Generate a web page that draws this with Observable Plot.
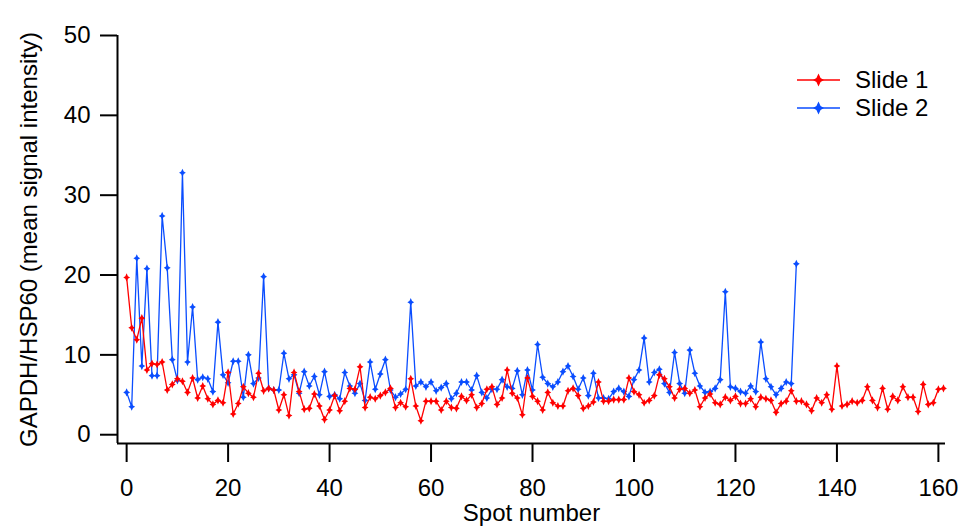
<!DOCTYPE html>
<html>
<head>
<meta charset="utf-8">
<script src="https://cdn.jsdelivr.net/npm/d3@7"></script>
<script src="https://cdn.jsdelivr.net/npm/@observablehq/plot@0.6"></script>
<style>
  html, body { margin: 0; padding: 0; background: white; }
  #wrap { position: relative; width: 961px; height: 532px; font-family: "Liberation Sans", Arial, sans-serif; }
  #legend { position: absolute; left: 0; top: 0; pointer-events: none; }
</style>
</head>
<body>
<div id="wrap"></div>
<script>
// ---- Data ----
const slide1 = [19.7,13.4,11.9,14.6,8.1,8.9,8.8,9.1,5.6,6.3,7.0,6.7,5.3,7.1,4.6,6.1,4.5,3.8,4.3,4.0,
  7.8,2.6,3.9,6.0,5.2,4.7,7.7,5.5,5.8,5.6,3.1,5.0,2.4,7.8,5.4,3.2,3.3,5.1,3.6,1.9,
  3.1,4.9,3.0,4.2,5.8,5.7,8.5,3.4,4.7,4.5,4.9,5.3,5.8,3.4,4.0,3.5,7.0,3.6,1.75,4.2,
  4.2,4.2,3.1,4.2,3.4,3.3,4.8,4.3,5.0,3.4,3.9,5.7,6.0,3.8,4.6,8.1,5.2,4.6,2.5,7.1,
  4.8,4.2,3.1,5.3,4.0,3.6,3.6,5.5,5.8,4.9,3.3,3.6,4.1,6.6,4.2,4.2,4.4,4.4,4.4,7.1,
  5.4,5.0,4.0,4.3,4.9,7.5,7.0,6.0,4.6,5.7,5.8,5.2,5.6,3.5,4.6,5.1,4.0,3.8,4.7,4.3,
  4.8,3.9,3.9,4.5,3.5,4.7,4.5,4.3,2.8,3.9,4.2,5.5,4.2,4.2,3.8,3.0,4.6,4.0,5.0,3.2,
  8.6,3.6,3.8,4.2,4.0,4.3,6.0,4.3,3.4,5.8,3.2,4.8,4.3,6.0,4.7,4.7,2.9,6.3,3.8,4.0,
  5.7,5.8];
const slide2 = [5.3,3.5,22.1,8.6,20.8,7.4,7.4,27.4,20.9,9.4,6.8,32.8,9.1,16.0,6.9,7.2,7.0,5.4,14.1,7.5,
  6.5,9.2,9.2,4.7,10.0,6.4,7.1,19.8,5.8,5.6,5.6,10.2,7.0,7.5,5.2,7.9,6.1,7.3,5.0,7.9,
  4.8,5.0,4.5,7.8,6.1,5.2,6.4,4.3,9.1,5.7,7.6,9.4,5.6,4.7,5.1,5.7,16.6,6.1,6.6,6.0,
  6.6,5.5,5.9,6.4,4.5,5.2,6.6,6.6,5.6,7.4,5.3,4.6,5.7,5.7,6.9,6.0,5.8,8.0,5.0,8.1,
  5.6,11.3,7.2,6.4,6.0,6.6,7.9,8.6,7.3,5.7,7.1,4.9,7.7,4.6,4.6,4.5,5.4,5.8,5.4,4.8,
  6.9,8.1,12.1,6.6,7.8,8.2,6.4,5.3,10.3,6.4,5.2,10.6,7.7,6.1,5.3,5.4,5.8,6.9,17.9,6.0,
  5.8,5.4,5.2,6.1,5.4,11.6,7.0,6.0,5.0,5.8,6.6,6.4,21.4];
const seriesNames = ["Slide 1", "Slide 2"];
const seriesColors = ["#ff0000", "#0a4dff"];
const xTicks = [0, 20, 40, 60, 80, 100, 120, 140, 160];
const yTicks = [0, 10, 20, 30, 40, 50];
const xLabel = "Spot number";
const yLabel = "GAPDH/HSP60 (mean signal intensity)";
const xDomain = [-1.8, 161.4];
const yDomain = [-1.1, 50];

const d1 = slide1.map((v, i) => ({spot: i, value: v}));
const d2 = slide2.map((v, i) => ({spot: i, value: v}));

// 4-point star symbol
const star4 = {
  draw(ctx, size) {
    const r = Math.sqrt(size / Math.PI);
    const rx = r, ry = r * 1.2, w = r * 0.38;
    ctx.moveTo(0, -ry); ctx.lineTo(w, -w); ctx.lineTo(rx, 0); ctx.lineTo(w, w);
    ctx.lineTo(0, ry); ctx.lineTo(-w, w); ctx.lineTo(-rx, 0); ctx.lineTo(-w, -w);
    ctx.closePath();
  }
};

const font = "'Liberation Sans', Arial, sans-serif";
const fs = 24;

const chart = Plot.plot({
  width: 961,
  height: 532,
  marginLeft: 117,
  marginRight: 16,
  marginTop: 35,
  marginBottom: 89,
  style: {fontFamily: font, fontSize: fs + "px", color: "black", background: "white", overflow: "visible"},
  x: {domain: xDomain},
  y: {domain: yDomain},
  marks: [
    Plot.axisX({ticks: xTicks, tickSize: 19, tickPadding: 16, strokeWidth: 2, fontSize: fs, label: null}),
    Plot.axisY({ticks: yTicks, tickSize: 17, tickPadding: 10, strokeWidth: 2, fontSize: fs, label: null}),
    Plot.ruleX([xDomain[0]], {y1: yDomain[0], y2: yDomain[1], stroke: "black", strokeWidth: 2}),
    Plot.ruleY([yDomain[0]], {x1: xDomain[0], x2: xDomain[1], stroke: "black", strokeWidth: 2}),
    Plot.text([xLabel], {frameAnchor: "bottom", dy: 77, fontSize: fs, fill: "black", textAnchor: "middle"}),
    Plot.text([yLabel], {frameAnchor: "left", dx: -88, rotate: -90, fontSize: fs, fill: "black", textAnchor: "middle"}),
    Plot.line(d2, {x: "spot", y: "value", stroke: seriesColors[1], strokeWidth: 1.3}),
    Plot.dot(d2, {x: "spot", y: "value", symbol: star4, r: 3.4, fill: seriesColors[1], stroke: "none"}),
    Plot.line(d1, {x: "spot", y: "value", stroke: seriesColors[0], strokeWidth: 1.3}),
    Plot.dot(d1, {x: "spot", y: "value", symbol: star4, r: 3.4, fill: seriesColors[0], stroke: "none"})
  ]
});
document.getElementById("wrap").appendChild(chart);

// Legend overlay (inside plot area, top right)
const leg = d3.select("#wrap").append("svg")
  .attr("id", "legend").attr("width", 961).attr("height", 532);
seriesNames.forEach((name, i) => {
  const cy = 80 + i * 28;
  const g = leg.append("g");
  g.append("line").attr("x1", 797).attr("x2", 840).attr("y1", cy).attr("y2", cy)
    .attr("stroke", seriesColors[i]).attr("stroke-width", 1.5);
  g.append("path").attr("transform", `translate(818.5,${cy})`)
    .attr("d", d3.symbol().type(star4).size(Math.PI * 30)())
    .attr("fill", seriesColors[i]);
  g.append("text").attr("x", 855).attr("y", cy).attr("dy", "0.35em")
    .attr("font-family", font).attr("font-size", fs).attr("fill", "black").text(name);
});
</script>
</body>
</html>
